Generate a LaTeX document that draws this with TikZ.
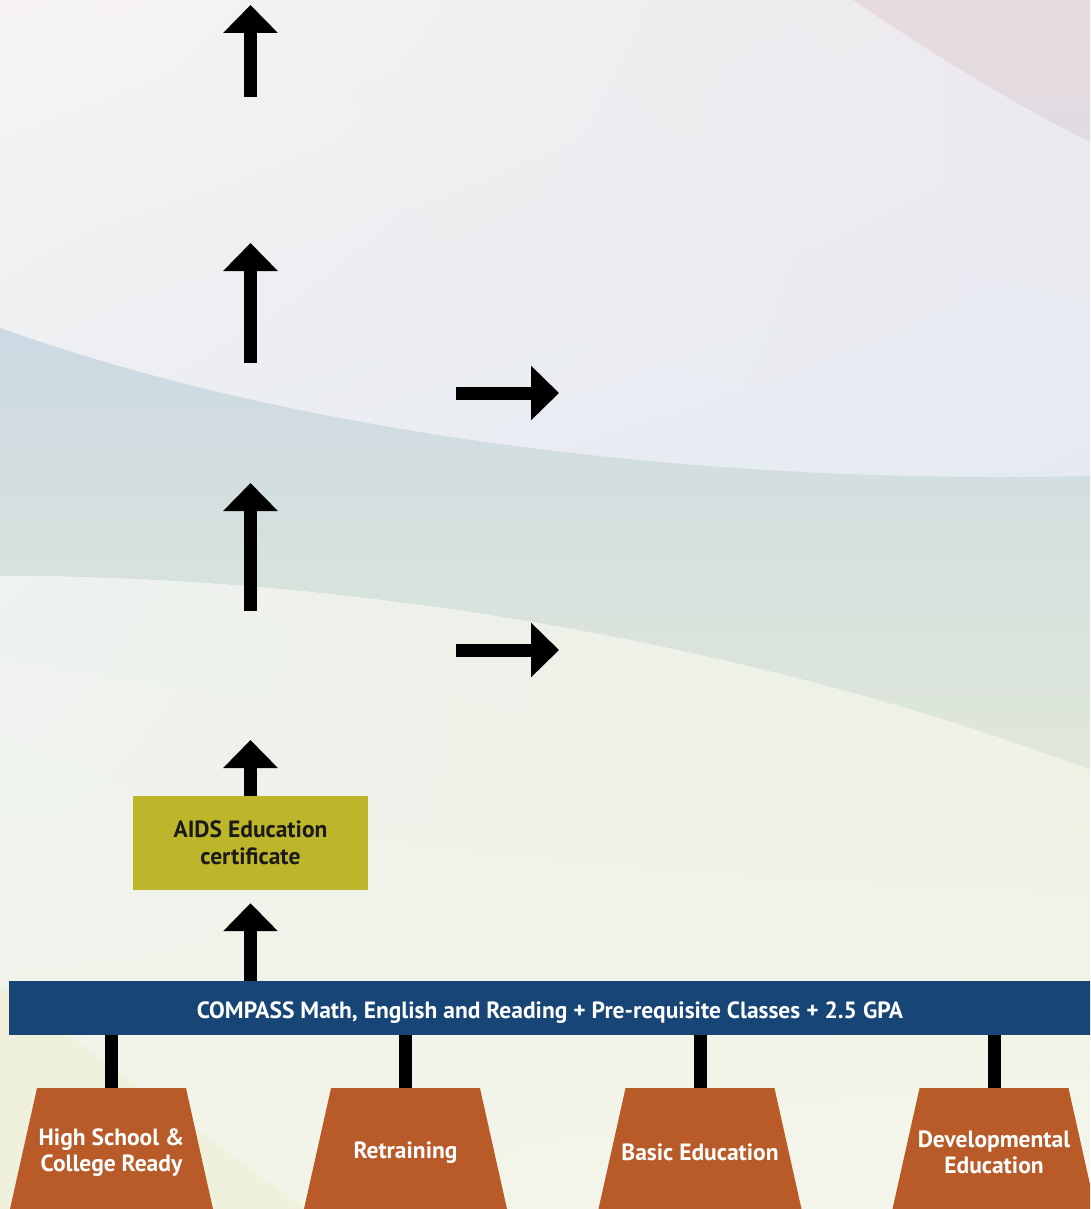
\documentclass[tikz,border=0pt]{standalone}
\usepackage{fontspec}
\setmainfont{PT Sans}
\usepackage{tikz}
\usetikzlibrary{arrows.meta,shapes.geometric,positioning,shadings}
\usepackage{xcolor}
\definecolor{pathblue}{RGB}{23,69,118}
\definecolor{pathrust}{RGB}{184,91,40}
\definecolor{patholive}{RGB}{189,182,43}
\definecolor{pathink}{RGB}{26,26,26}
\definecolor{skyA}{RGB}{247,244,243}
\definecolor{skyB}{RGB}{236,233,238}
\definecolor{skyC}{RGB}{235,238,242}
\definecolor{skyD}{RGB}{229,234,242}
\definecolor{pinkA}{RGB}{232,219,221}
\definecolor{pinkB}{RGB}{224,219,226}
\definecolor{bandA}{RGB}{204,217,227}
\definecolor{bandB}{RGB}{224,232,217}
\definecolor{lowA}{RGB}{238,242,240}
\definecolor{lowB}{RGB}{236,239,224}
\definecolor{lowC}{RGB}{242,244,232}
\definecolor{lowD}{RGB}{245,246,235}
\definecolor{wedge}{RGB}{239,241,221}
\tikzstyle{bigarrow} = [line width=13pt,-{Triangle[length=28pt,width=53pt]},color=black]
\tikzstyle{stem} = [line width=13pt,color=black]
\tikzstyle{entry} = [trapezium, trapezium angle=77.4, trapezium stretches body, minimum width=203pt, inner xsep=0pt, inner ysep=60.5pt, fill=pathrust]
\tikzstyle{entrytext} = [text=white, align=center, yshift=-4pt, font=\fontsize{23.5}{26.5}\selectfont\bfseries]

\begin{document}
\begin{tikzpicture}[x=1pt,y=-1pt]
\useasboundingbox (0,0) rectangle (1090,1209);
\clip (0,0) rectangle (1090,1209);

% Background bands
\shade[upper left=skyA, upper right=skyB, lower left=skyC, lower right=skyD]
  (0,0) -- (1090,0) -- (1090,480) -- (0,480) -- cycle;
\shade[top color=pinkA, bottom color=pinkB]
  (853,0) .. controls (930,52) and (1010,102) .. (1090,142) -- (1090,0) -- cycle;
\shade[top color=bandA, bottom color=bandB]
  (0,328) .. controls (300,435) and (700,485) .. (1090,476) -- (1090,770)
  .. controls (800,660) and (400,576) .. (0,576) -- cycle;
\shade[upper left=lowA, upper right=lowB, lower left=lowC, lower right=lowD]
  (0,576) .. controls (400,576) and (800,660) .. (1090,770) -- (1090,1209) -- (0,1209) -- cycle;
\fill[wedge] (0,985) -- (305,1209) -- (0,1209) -- cycle;

% Requirement bar
\node[fill=pathblue, text=white, minimum width=1082pt, minimum height=54pt, inner sep=0pt,
      text height=20pt, text depth=0pt, font=\fontsize{23.5}{26.5}\selectfont\bfseries] (bar) at (550,1008)
  {COMPASS Math, English and Reading + Pre-requisite Classes + 2.5 GPA};

% Entry points
\node[entry, label={[entrytext]center:{High School \&\\College Ready}}] (hs) at (111.5,1148.5) {};
\node[entry, label={[entrytext]center:Retraining}] (rt) at (405.5,1148.5) {};
\node[entry, label={[entrytext]center:Basic Education}] (be) at (700,1148.5) {};
\node[entry, label={[entrytext]center:{Developmental\\Education}}] (de) at (994,1148.5) {};

\foreach \n in {hs,rt,be,de}
  \draw[stem] (bar.south -| \n.north) -- (\n.north);

% Certificate
\node[fill=patholive, text=pathink, minimum width=235pt, minimum height=94pt, inner sep=0pt, align=center,
      font=\fontsize{23.5}{26.5}\selectfont\bfseries] (aids) at (250.5,843) {AIDS Education\\certificate};

% Arrow ends
\coordinate (up1a) at (250.5,97);  \coordinate (up1b) at (250.5,5);
\coordinate (up2a) at (250.5,363); \coordinate (up2b) at (250.5,243);
\coordinate (up3a) at (250.5,611); \coordinate (up3b) at (250.5,483);
\coordinate (up4b) at (250.5,740);
\coordinate (rt1a) at (456,393);   \coordinate (rt1b) at (559,393);
\coordinate (rt2a) at (456,650);   \coordinate (rt2b) at (559,650);

% Arrows
\draw[bigarrow] (bar.north -| aids.south) -- ([yshift=-13pt]aids.south);
\draw[bigarrow] (aids.north) -- (up4b);
\draw[bigarrow] (up3a) -- (up3b);
\draw[bigarrow] (up2a) -- (up2b);
\draw[bigarrow] (up1a) -- (up1b);
\draw[bigarrow] (rt1a) -- (rt1b);
\draw[bigarrow] (rt2a) -- (rt2b);
\end{tikzpicture}
\end{document}
